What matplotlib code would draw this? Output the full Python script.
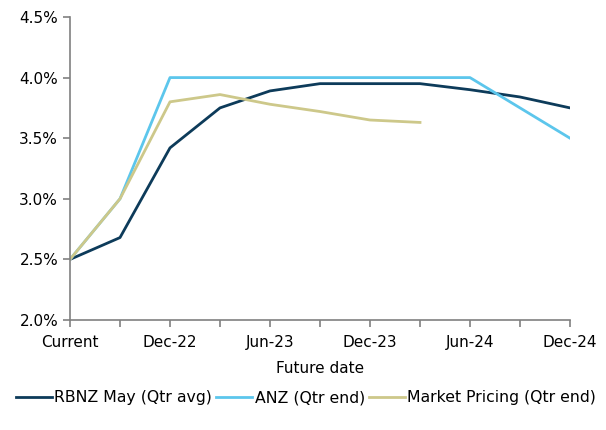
import matplotlib

matplotlib.use("Agg")
import matplotlib.pyplot as plt
from matplotlib.ticker import FuncFormatter

# quarters from now out to Dec-24, labelled every second one
quarters = ["Current", "Sep-22", "Dec-22", "Mar-23", "Jun-23", "Sep-23",
            "Dec-23", "Mar-24", "Jun-24", "Sep-24", "Dec-24"]
tick_labels = ["Current", "", "Dec-22", "", "Jun-23", "",
               "Dec-23", "", "Jun-24", "", "Dec-24"]

rbnz_may = [2.50, 2.68, 3.42, 3.75, 3.89, 3.95, 3.95, 3.95, 3.90, 3.84, 3.75]
anz = [2.50, 3.00, 4.00, 4.00, 4.00, 4.00, 4.00, 4.00, 4.00, 3.75, 3.50]
market = [2.50, 3.00, 3.80, 3.86, 3.78, 3.72, 3.65, 3.63]

fig = plt.figure(figsize=(6.06, 4.30), dpi=100)
ax = fig.add_axes([0.1155, 0.2558, 0.8251, 0.7047])

x = list(range(len(quarters)))
ax.plot(x, rbnz_may, color="#0d3b5a", lw=2.0, label="RBNZ May (Qtr avg)")
ax.plot(x, anz, color="#5cc6ec", lw=2.0, label="ANZ (Qtr end)")
ax.plot(x[:len(market)], market, color="#cdc88a", lw=2.0,
        label="Market Pricing (Qtr end)")

ax.set_xlim(0, len(quarters) - 1)
ax.set_ylim(2.0, 4.5)
ax.set_yticks([2.0, 2.5, 3.0, 3.5, 4.0, 4.5])
ax.yaxis.set_major_formatter(FuncFormatter(lambda v, _: f"{v:.1f}%"))
ax.set_xticks(x)
ax.set_xticklabels(tick_labels)

for side in ["top", "right"]:
    ax.spines[side].set_visible(False)
for side in ["left", "bottom"]:
    ax.spines[side].set_color("#808080")
    ax.spines[side].set_linewidth(1.2)
ax.tick_params(axis="both", direction="out", length=5, width=1.2,
               color="#808080", labelsize=11, labelcolor="black")
ax.tick_params(axis="x", pad=6)

ax.set_xlabel("Future date", fontsize=11, labelpad=8)

fig.legend(loc="lower center", bbox_to_anchor=(0.505, 0.025), ncol=3,
           frameon=False, fontsize=11.3, handlelength=2.3,
           handletextpad=0.15, columnspacing=0.25)

fig.savefig("out.png", dpi=100)
plt.close(fig)
